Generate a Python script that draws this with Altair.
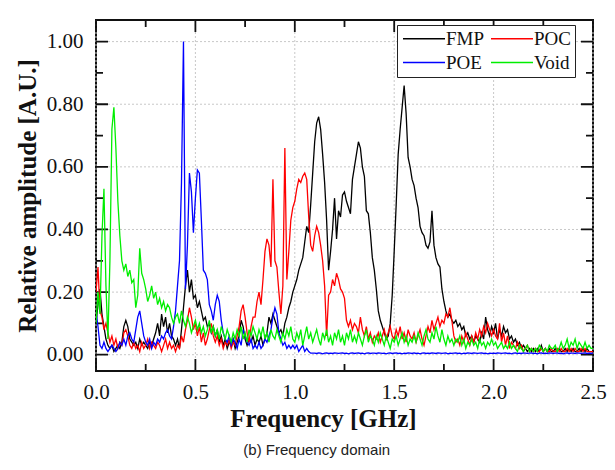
import altair as alt
import pandas as pd

series = ["FMP", "POC", "POE", "Void"]
colors = ["#000000", "#ff0000", "#0000ff", "#00ee00"]
x_major = [0.0, 0.5, 1.0, 1.5, 2.0, 2.5]
x_minor = [0.25, 0.75, 1.25, 1.75, 2.25]
y_major = [0.0, 0.2, 0.4, 0.6, 0.8, 1.0]
y_minor = [0.1, 0.3, 0.5, 0.7, 0.9]
freq = [round(i * 0.01, 2) for i in range(251)]

fmp = [
    0.10, 0.16, 0.21, 0.13, 0.09, 0.05, 0.03, 0.02, 0.03, 0.01,
    0.02, 0.03, 0.02, 0.04, 0.09, 0.11, 0.09, 0.05, 0.04, 0.03,
    0.04, 0.02, 0.05, 0.03, 0.04, 0.03, 0.02, 0.04, 0.03, 0.05,
    0.07, 0.10, 0.06, 0.13, 0.09, 0.12, 0.07, 0.10, 0.06, 0.05,
    0.03, 0.05, 0.02, 0.08, 0.15, 0.22, 0.27, 0.20, 0.24, 0.18,
    0.19, 0.15, 0.17, 0.14, 0.11, 0.12, 0.09, 0.10, 0.07, 0.09,
    0.06, 0.08, 0.04, 0.06, 0.03, 0.05, 0.02, 0.04, 0.03, 0.05,
    0.02, 0.04, 0.06, 0.11, 0.09, 0.05, 0.03, 0.05, 0.04, 0.06,
    0.03, 0.05, 0.04, 0.06, 0.03, 0.05, 0.07, 0.12, 0.10, 0.13,
    0.11, 0.09, 0.07, 0.08, 0.06, 0.10, 0.12, 0.15, 0.17, 0.20,
    0.22, 0.24, 0.27, 0.29, 0.31, 0.36, 0.41, 0.39, 0.48, 0.58,
    0.68, 0.74, 0.76, 0.72, 0.64, 0.55, 0.43, 0.27, 0.33, 0.40,
    0.50, 0.37, 0.46, 0.44, 0.51, 0.52, 0.49, 0.47, 0.45, 0.56,
    0.60, 0.64, 0.68, 0.66, 0.60, 0.57, 0.46, 0.45, 0.39, 0.31,
    0.27, 0.21, 0.14, 0.11, 0.09, 0.07, 0.05, 0.06, 0.10, 0.19,
    0.33, 0.48, 0.64, 0.72, 0.79, 0.86, 0.77, 0.63, 0.60, 0.56,
    0.54, 0.50, 0.47, 0.41, 0.39, 0.38, 0.35, 0.34, 0.36, 0.46,
    0.35, 0.31, 0.29, 0.28, 0.21, 0.17, 0.14, 0.12, 0.13, 0.11,
    0.10, 0.11, 0.09, 0.10, 0.08, 0.09, 0.06, 0.07, 0.05, 0.06,
    0.04, 0.06, 0.05, 0.04, 0.07, 0.05, 0.12, 0.08, 0.06, 0.09,
    0.07, 0.10, 0.05, 0.08, 0.06, 0.09, 0.07, 0.08, 0.05, 0.06,
    0.04, 0.05, 0.03, 0.04, 0.02, 0.03, 0.02, 0.01, 0.02, 0.01,
    0.02, 0.01, 0.02, 0.01, 0.03, 0.01, 0.02, 0.01, 0.02, 0.01,
    0.01, 0.02, 0.01, 0.02, 0.01, 0.01, 0.02, 0.01, 0.02, 0.01,
    0.02, 0.01, 0.01, 0.02, 0.01, 0.02, 0.01, 0.02, 0.01, 0.01,
    0.01,
]

poc = [
    0.20, 0.28, 0.14, 0.12, 0.08, 0.10, 0.07, 0.04, 0.06, 0.03,
    0.05, 0.02, 0.04, 0.03, 0.07, 0.08, 0.06, 0.03, 0.02, 0.04,
    0.02, 0.03, 0.01, 0.04, 0.02, 0.03, 0.05, 0.02, 0.04, 0.03,
    0.02, 0.04, 0.03, 0.01, 0.03, 0.05, 0.02, 0.04, 0.02, 0.03,
    0.01, 0.03, 0.02, 0.06, 0.04, 0.08, 0.11, 0.15, 0.12, 0.08,
    0.10, 0.06, 0.09, 0.04, 0.07, 0.03, 0.05, 0.08, 0.10, 0.06,
    0.04, 0.06, 0.03, 0.05, 0.02, 0.04, 0.03, 0.05, 0.02, 0.04,
    0.03, 0.06, 0.09, 0.14, 0.16, 0.12, 0.07, 0.04, 0.09, 0.12,
    0.12, 0.17, 0.20, 0.16, 0.24, 0.33, 0.37, 0.35, 0.28, 0.56,
    0.30, 0.28, 0.20, 0.13, 0.22, 0.66, 0.24, 0.33, 0.43, 0.47,
    0.49, 0.53, 0.56, 0.55, 0.57, 0.58, 0.56, 0.44, 0.35, 0.33,
    0.38, 0.41, 0.39, 0.35, 0.30, 0.22, 0.06, 0.19, 0.20, 0.24,
    0.22, 0.26, 0.24, 0.21, 0.20, 0.18, 0.11, 0.09, 0.11, 0.08,
    0.10, 0.09, 0.07, 0.12, 0.08, 0.06, 0.09, 0.05, 0.07, 0.04,
    0.06, 0.05, 0.07, 0.04, 0.06, 0.08, 0.05, 0.07, 0.09, 0.06,
    0.05, 0.08, 0.06, 0.09, 0.05, 0.07, 0.04, 0.08, 0.06, 0.05,
    0.07, 0.04, 0.06, 0.08, 0.05, 0.03, 0.06, 0.09, 0.07, 0.11,
    0.08, 0.10, 0.12, 0.09, 0.11, 0.10, 0.13, 0.12, 0.15, 0.11,
    0.06, 0.04, 0.05, 0.03, 0.06, 0.04, 0.07, 0.05, 0.03, 0.06,
    0.04, 0.07, 0.05, 0.08, 0.06, 0.09, 0.07, 0.10, 0.08, 0.06,
    0.08, 0.06, 0.05, 0.10, 0.04, 0.07, 0.03, 0.06, 0.02, 0.04,
    0.03, 0.02, 0.04, 0.02, 0.03, 0.01, 0.02, 0.03, 0.01, 0.02,
    0.01, 0.02, 0.01, 0.01, 0.02, 0.01, 0.02, 0.01, 0.01, 0.02,
    0.01, 0.01, 0.02, 0.01, 0.02, 0.01, 0.01, 0.02, 0.01, 0.02,
    0.01, 0.02, 0.01, 0.01, 0.02, 0.01, 0.02, 0.01, 0.01, 0.01,
    0.01,
]

poe = [
    0.14, 0.09, 0.03, 0.02, 0.04, 0.02, 0.01, 0.02, 0.03, 0.02,
    0.01, 0.02, 0.04, 0.03, 0.05, 0.03, 0.06, 0.07, 0.05, 0.04,
    0.08, 0.12, 0.14, 0.10, 0.06, 0.04, 0.03, 0.05, 0.02, 0.04,
    0.03, 0.05, 0.04, 0.06, 0.05, 0.07, 0.08, 0.06, 0.05, 0.09,
    0.14, 0.22, 0.30, 0.55, 1.00, 0.21, 0.35, 0.58, 0.52, 0.39,
    0.50, 0.59, 0.58, 0.43, 0.27, 0.26, 0.24, 0.16, 0.14, 0.11,
    0.16, 0.19, 0.17, 0.11, 0.07, 0.05, 0.04, 0.06, 0.03, 0.05,
    0.04, 0.02, 0.05, 0.03, 0.08, 0.06, 0.04, 0.03, 0.05, 0.02,
    0.03, 0.02, 0.04, 0.02, 0.03, 0.05, 0.04, 0.06, 0.08, 0.12,
    0.15, 0.13, 0.07, 0.05, 0.03, 0.04, 0.02, 0.03, 0.02, 0.03,
    0.02, 0.03, 0.01, 0.02, 0.03, 0.01, 0.02, 0.01, 0.005, 0.005,
    0.005, 0.004, 0.006, 0.005, 0.003, 0.005, 0.006, 0.004, 0.005, 0.004,
    0.006, 0.005, 0.004, 0.005, 0.006, 0.004, 0.005, 0.003, 0.005, 0.006,
    0.004, 0.005, 0.006, 0.004, 0.005, 0.003, 0.005, 0.006, 0.004, 0.005,
    0.005, 0.004, 0.006, 0.005, 0.004, 0.005, 0.003, 0.005, 0.006, 0.004,
    0.005, 0.006, 0.004, 0.005, 0.003, 0.005, 0.004, 0.006, 0.005, 0.004,
    0.006, 0.004, 0.005, 0.003, 0.005, 0.006, 0.004, 0.005, 0.004, 0.006,
    0.005, 0.004, 0.006, 0.005, 0.004, 0.005, 0.006, 0.003, 0.005, 0.004,
    0.005, 0.006, 0.004, 0.005, 0.003, 0.005, 0.004, 0.006, 0.005, 0.004,
    0.006, 0.005, 0.004, 0.005, 0.006, 0.004, 0.005, 0.003, 0.005, 0.004,
    0.005, 0.004, 0.006, 0.005, 0.004, 0.005, 0.006, 0.004, 0.005, 0.003,
    0.005, 0.006, 0.004, 0.005, 0.004, 0.006, 0.005, 0.004, 0.005, 0.006,
    0.004, 0.005, 0.003, 0.005, 0.006, 0.004, 0.005, 0.004, 0.006, 0.005,
    0.004, 0.005, 0.006, 0.004, 0.005, 0.003, 0.005, 0.006, 0.004, 0.005,
    0.005, 0.004, 0.006, 0.005, 0.004, 0.005, 0.006, 0.004, 0.005, 0.004,
    0.005,
]

void = [
    0.10, 0.20, 0.13, 0.38, 0.53, 0.22, 0.05, 0.30, 0.72, 0.79,
    0.66, 0.49, 0.38, 0.30, 0.27, 0.29, 0.25, 0.27, 0.23, 0.24,
    0.15, 0.19, 0.34, 0.26, 0.24, 0.21, 0.17, 0.19, 0.22, 0.18,
    0.20, 0.16, 0.18, 0.15, 0.17, 0.14, 0.16, 0.15, 0.12, 0.10,
    0.12, 0.13, 0.10, 0.14, 0.11, 0.09, 0.12, 0.10, 0.07, 0.09,
    0.11, 0.08, 0.10, 0.07, 0.09, 0.06, 0.08, 0.11, 0.07, 0.09,
    0.06, 0.08, 0.05, 0.09, 0.07, 0.05, 0.08, 0.06, 0.04, 0.07,
    0.05, 0.08, 0.06, 0.09, 0.05, 0.07, 0.04, 0.08, 0.06, 0.09,
    0.07, 0.05, 0.08, 0.06, 0.09, 0.05, 0.07, 0.04, 0.08, 0.06,
    0.05, 0.08, 0.06, 0.04, 0.07, 0.05, 0.08, 0.06, 0.09, 0.05,
    0.04, 0.07, 0.05, 0.08, 0.03, 0.06, 0.09, 0.05, 0.07, 0.04,
    0.06, 0.08, 0.05, 0.03, 0.07, 0.05, 0.08, 0.04, 0.06, 0.03,
    0.07, 0.05, 0.08, 0.04, 0.06, 0.03, 0.07, 0.05, 0.08, 0.04,
    0.06, 0.04, 0.07, 0.05, 0.03, 0.06, 0.08, 0.04, 0.06, 0.05,
    0.03, 0.06, 0.04, 0.07, 0.05, 0.03, 0.06, 0.04, 0.02, 0.05,
    0.04, 0.06, 0.03, 0.05, 0.07, 0.04, 0.06, 0.03, 0.05, 0.04,
    0.06, 0.04, 0.07, 0.05, 0.03, 0.06, 0.08, 0.05, 0.04, 0.07,
    0.05, 0.09, 0.06, 0.04, 0.08, 0.05, 0.03, 0.06, 0.04, 0.05,
    0.03, 0.05, 0.04, 0.06, 0.03, 0.05, 0.02, 0.04, 0.03, 0.05,
    0.03, 0.04, 0.02, 0.05, 0.03, 0.04, 0.02, 0.04, 0.03, 0.05,
    0.03, 0.04, 0.02, 0.03, 0.04, 0.02, 0.03, 0.02, 0.04, 0.02,
    0.03, 0.02, 0.01, 0.03, 0.02, 0.01, 0.02, 0.03, 0.01, 0.02,
    0.01, 0.02, 0.01, 0.03, 0.02, 0.01, 0.02, 0.01, 0.03, 0.02,
    0.02, 0.03, 0.01, 0.02, 0.04, 0.02, 0.03, 0.05, 0.02, 0.04,
    0.03, 0.05, 0.02, 0.04, 0.03, 0.02, 0.04, 0.02, 0.03, 0.02,
    0.02,
]

rows = []
for name, vals in zip(series, [fmp, poc, poe, void]):
    for f, a in zip(freq, vals):
        rows.append({"f": f, "a": a, "series": name})
df = pd.DataFrame(rows)

tick_rows = []
for kind, vals in [("xmaj", x_major), ("xmin", x_minor), ("ymaj", y_major), ("ymin", y_minor)]:
    for v in vals:
        tick_rows.append({"kind": kind, "tv": v})
ticks_df = pd.DataFrame(tick_rows)

W, H = 497, 351
MAJ, MIN = 12, 7
SERIF = "Liberation Serif"
xs = alt.Scale(domain=[0, 2.5], nice=False, zero=False, padding=0)
ys = alt.Scale(domain=[-0.052, 1.069], nice=False, zero=False, padding=0)

ax_x = alt.Axis(
    orient="bottom", values=x_major, format=".1f", grid=False,
    ticks=False, domain=False, labelFlush=False,
    labelFont=SERIF, labelFontSize=21, labelColor="#111", labelPadding=10,
    title="Frequency [GHz]", titleFont=SERIF, titleFontSize=25,
    titleFontWeight="bold", titleColor="#111", titlePadding=4, titleX=227,
)
ax_y = alt.Axis(
    orient="left", values=y_major, format=".2f", grid=False,
    ticks=False, domain=False, labelFlush=False,
    labelFont=SERIF, labelFontSize=21, labelColor="#111", labelPadding=13,
    title="Relative amplitude [A.U.]", titleFont=SERIF, titleFontSize=25,
    titleFontWeight="bold", titleColor="#111", titlePadding=6,
)

leg = alt.Legend(
    title=None, orient="none", legendX=301, legendY=5, columns=2,
    direction="horizontal",
    symbolType="M-1,0H4.6", symbolSize=225, symbolStrokeWidth=1.5,
    labelFont=SERIF, labelFontSize=19, labelColor="#111", labelOffset=26,
    strokeColor="#222", fillColor="white", padding=4, columnPadding=3,
    rowPadding=4, cornerRadius=0,
)

# dashed grid lines at the major values
grid_base = alt.Chart(ticks_df).mark_rule(color="#c8c8c8", strokeWidth=1, strokeDash=[2, 2])
grid_x = grid_base.transform_filter(alt.datum.kind == "xmaj").encode(
    x=alt.X("tv:Q", scale=xs, axis=None), y=alt.value(0), y2=alt.value(H))
grid_y = grid_base.transform_filter(alt.datum.kind == "ymaj").encode(
    y=alt.Y("tv:Q", scale=ys, axis=None), x=alt.value(0), x2=alt.value(W))


# inward ticks: a full-span rule whose dash pattern leaves only both ends drawn
def xtick_span(kind, size):
    return alt.Chart(ticks_df).mark_rule(
        color="#111", strokeWidth=1.8, strokeDash=[size, H - 2 * size]
    ).transform_filter(alt.datum.kind == kind).encode(
        x=alt.X("tv:Q", scale=xs, axis=None), y=alt.value(0), y2=alt.value(H))


def ytick_span(kind, size):
    return alt.Chart(ticks_df).mark_rule(
        color="#111", strokeWidth=1.8, strokeDash=[size, W - 2 * size]
    ).transform_filter(alt.datum.kind == kind).encode(
        y=alt.Y("tv:Q", scale=ys, axis=None), x=alt.value(0), x2=alt.value(W))


tick_layers = [
    xtick_span("xmaj", MAJ),
    xtick_span("xmin", MIN),
    ytick_span("ymaj", MAJ),
    ytick_span("ymin", MIN),
]

lines = alt.Chart(df).mark_line(strokeWidth=1.3, clip=True).encode(
    x=alt.X("f:Q", scale=xs, axis=ax_x),
    y=alt.Y("a:Q", scale=ys, axis=ax_y),
    color=alt.Color("series:N", scale=alt.Scale(domain=series, range=colors), legend=leg),
)

chart = alt.layer(grid_x, grid_y, *tick_layers, lines).resolve_axis(
    x="independent", y="independent"
).properties(
    width=W, height=H,
    autosize=alt.AutoSizeParams(type="none"),
    padding={"left": 88, "top": 12, "right": 14, "bottom": 91},
    title=alt.TitleParams(
        "(b) Frequency domain", orient="bottom", anchor="middle", frame="bounds",
        font="Liberation Sans", fontSize=15, fontWeight="normal", color="#222",
        offset=12, dx=6,
    ),
).configure_view(stroke="#111", strokeWidth=2)

chart.save("out.html", embed_options={"renderer": "svg", "actions": False})
